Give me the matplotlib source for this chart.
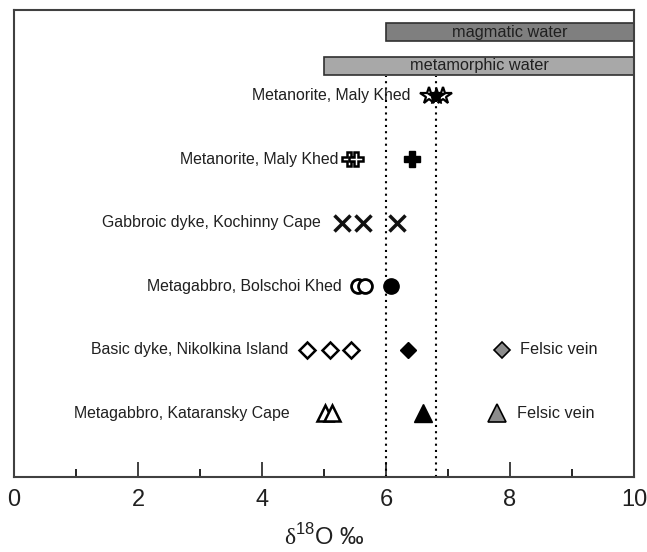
import matplotlib
matplotlib.use("Agg")
import matplotlib.pyplot as plt
from matplotlib.ticker import MultipleLocator

plt.rcParams['font.family'] = ['Liberation Sans', 'DejaVu Sans']
plt.rcParams['mathtext.fontset'] = 'custom'
plt.rcParams['mathtext.rm'] = 'Liberation Serif'
plt.rcParams['mathtext.sf'] = 'Liberation Sans'

# Sample groups (row position from bottom) and their labels
row_labels = ["Metanorite, Maly Khed", "Metanorite, Maly Khed",
              "Gabbroic dyke, Kochinny Cape", "Metagabbro, Bolschoi Khed",
              "Basic dyke, Nikolkina Island", "Metagabbro, Kataransky Cape"]
row_y = [6, 5, 4, 3, 2, 1]
label_x = [6.39, 5.24, 4.94, 5.29, 4.42, 4.45]

# delta18O values, open (first phase) and filled (second phase)
stars_open = [6.70, 6.92]
stars_filled = [6.81]
plus_open = [5.40, 5.52]
plus_filled = [6.42]
cross_vals = [5.29, 5.63, 6.18]
circ_open = [5.55, 5.66]
circ_filled = [6.08]
diam_open = [4.73, 5.10, 5.44]
diam_filled = [6.35]
diam_felsic = [7.87]
tri_open = [5.02, 5.13]
tri_filled = [6.60]
tri_felsic = [7.79]

# Reference fluid ranges
magmatic_range = (6.0, 10.0)
metamorphic_range = (5.0, 10.0)
ref_lines = [6.0, 6.8]

FS = 11.4

fig = plt.figure(figsize=(6.47, 5.52), dpi=100)
ax = fig.add_axes([14/647, 1 - 477/552, 620/647, 467/552])
ax.set_xlim(0, 10)
ax.set_ylim(0, 7.35)

# fluid range bars
ax.barh(7.0, magmatic_range[1] - magmatic_range[0], left=magmatic_range[0],
        height=0.28, color='#7f7f7f', edgecolor='#303030', linewidth=1.2)
ax.barh(6.47, metamorphic_range[1] - metamorphic_range[0], left=metamorphic_range[0],
        height=0.28, color='#a8a8a8', edgecolor='#303030', linewidth=1.2)
ax.text(8.0, 7.0, "magmatic water", ha='center', va='center', fontsize=11.7, color='#202020')
ax.text(7.5, 6.47, "metamorphic water", ha='center', va='center', fontsize=11.7, color='#202020')

ax.vlines(ref_lines, 0, 6.31, colors='black', linestyles=(0, (1, 2)), linewidth=1.5)

for lab, x, y in zip(row_labels, label_x, row_y):
    ax.text(x, y, lab, ha='right', va='center', fontsize=FS, color='#202020')

def pts(xs, y):
    return xs, [y] * len(xs)

kw_open = dict(linestyle='none', markerfacecolor='white', markeredgecolor='black')
ax.plot(*pts(stars_open, 6), marker='*', markersize=13, markeredgewidth=1.6, **kw_open)
ax.plot(*pts(stars_filled, 6), marker='*', markersize=13, linestyle='none', color='black')
ax.plot(*pts(plus_open, 5), marker='P', markersize=10, markeredgewidth=1.8, **kw_open)
ax.plot(*pts(plus_filled, 5), marker='P', markersize=12, linestyle='none', color='black')
ax.plot(*pts(cross_vals, 4), marker='x', markersize=12, markeredgewidth=2.5,
        linestyle='none', color='#111111')
ax.plot(*pts(circ_open, 3), marker='o', markersize=10, markeredgewidth=2, **kw_open)
ax.plot(*pts(circ_filled, 3), marker='o', markersize=11, linestyle='none', color='black')
ax.plot(*pts(diam_open, 2), marker='D', markersize=8, markeredgewidth=1.8, **kw_open)
ax.plot(*pts(diam_filled, 2), marker='D', markersize=8.5, linestyle='none', color='black')
ax.plot(*pts(diam_felsic, 2), marker='D', markersize=8, markeredgewidth=1.2,
        linestyle='none', markerfacecolor='#8c8c8c', markeredgecolor='black')
ax.plot(*pts(tri_open, 1), marker='^', markersize=11, markeredgewidth=1.8, **kw_open)
ax.plot(*pts(tri_filled, 1), marker='^', markersize=13, linestyle='none', color='black')
ax.plot(*pts(tri_felsic, 1), marker='^', markersize=13, markeredgewidth=1.2,
        linestyle='none', markerfacecolor='#8c8c8c', markeredgecolor='black')
ax.text(8.16, 2, "Felsic vein", ha='left', va='center', fontsize=11.7, color='#202020')
ax.text(8.11, 1, "Felsic vein", ha='left', va='center', fontsize=11.7, color='#202020')

for s in ax.spines.values():
    s.set_color('#404040')
    s.set_linewidth(1.5)

ax.xaxis.set_major_locator(MultipleLocator(2))
ax.xaxis.set_minor_locator(MultipleLocator(1))
ax.tick_params(axis='x', which='major', direction='in', length=11, width=1.2,
               labelsize=17, pad=9, colors='#202020')
ax.tick_params(axis='x', which='minor', direction='in', length=5.5, width=1.2)
ax.set_yticks([])
ax.set_xlabel(r'$\mathrm{\delta}^{\mathsf{18}}$O ‰', fontsize=17, labelpad=9, color='#202020')

fig.savefig("out.png", dpi=100)
